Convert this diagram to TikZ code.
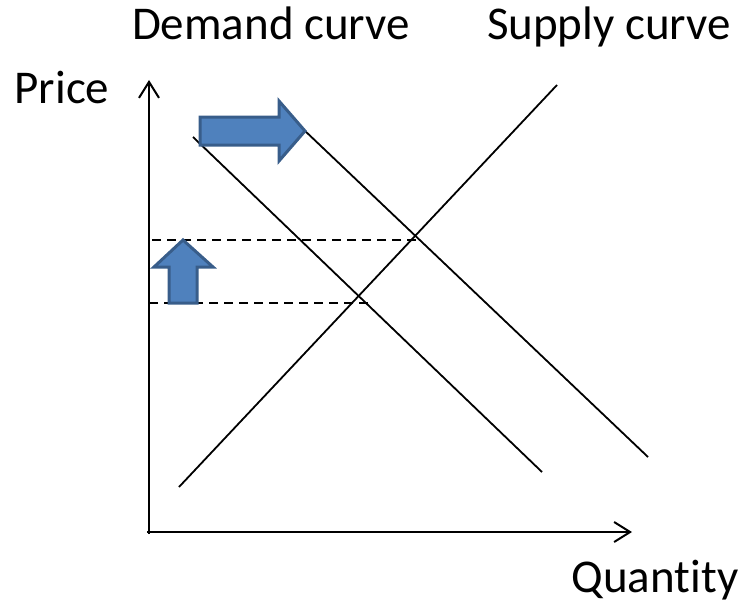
\documentclass[tikz,border=0pt]{standalone}
\usepackage{fontspec}
\setmainfont{Carlito}[Ligatures=NoCommon]
\usetikzlibrary{arrows.meta}
\definecolor{shiftfill}{RGB}{79,129,189}
\definecolor{shiftdraw}{RGB}{56,93,138}
\tikzset{
  axisline/.style={line width=2.2pt,-{Straight Barb[length=16pt,width=20pt,line width=2pt]}},
  curveline/.style={line width=1.8pt},
  guide/.style={line width=1.5pt,dash pattern=on 9pt off 6pt},
  shiftarrow/.style={fill=shiftfill,draw=shiftdraw,line width=3pt,line join=miter},
  bigtext/.style={font=\fontsize{47}{54}\selectfont,anchor=base,inner sep=0pt}
}
\begin{document}
\begin{tikzpicture}[x=1pt,y=-1pt]
\useasboundingbox (0,0) rectangle (743,607);
% axes
\coordinate (origin) at (149,532);
\coordinate (ytop) at (149,80);
\coordinate (xend) at (632,532);
\draw[axisline] (149,534) -- (ytop);
\draw[axisline] (147,532) -- (xend);
\node[bigtext] (price) at (62,103) {Price};
\node[bigtext] (quantity) at (655,592) {Quantity};
% curves
\coordinate (d1a) at (193,137);
\coordinate (d1b) at (542,472);
\coordinate (d2a) at (303,129);
\coordinate (d2b) at (648,457);
\coordinate (sa) at (179,487);
\coordinate (sb) at (557,85);
\draw[curveline] (d1a) -- (d1b);
\draw[curveline] (d2a) -- (d2b);
\draw[curveline] (sa) -- (sb);
\node[bigtext] (demand) at (271,40) {Demand curve};
\node[bigtext] (supply) at (609,40) {Supply curve};
% price levels
\coordinate (hi) at (416,240);
\coordinate (lo) at (368,303);
\draw[guide] (hi) -- (hi-|origin);
\draw[guide] (lo) -- (lo-|origin);
% shift arrows
\draw[shiftarrow] (200,117) -- (279,117) -- (279,101) -- (305,131) -- (279,161)
  -- (279,145) -- (200,145) -- cycle;
\draw[shiftarrow] (169,303) -- (169,267) -- (154,267) -- (183,240) -- (213,267)
  -- (197,267) -- (197,303) -- cycle;
\end{tikzpicture}
\end{document}
